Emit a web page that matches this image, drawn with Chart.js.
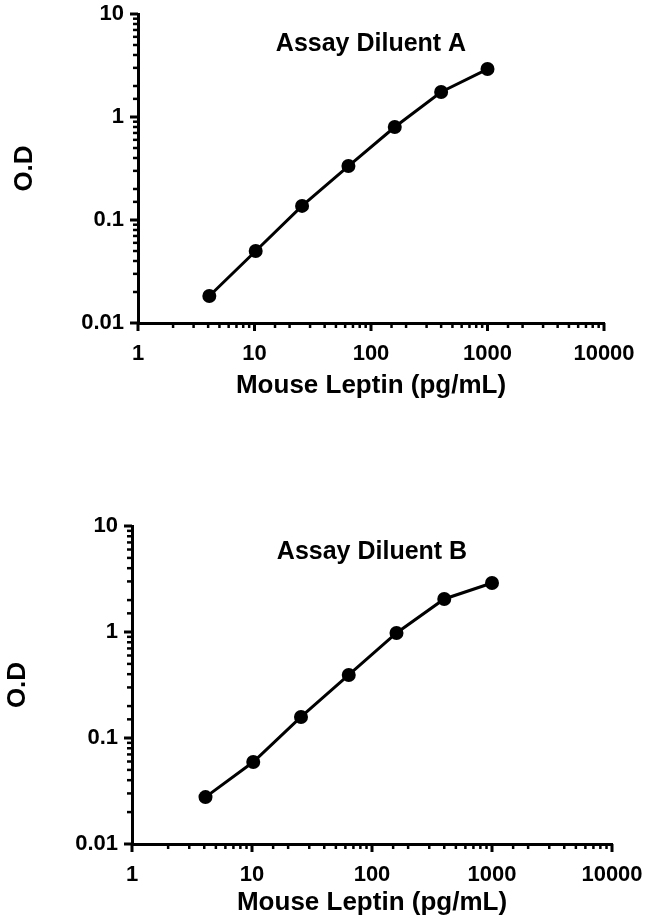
<!DOCTYPE html>
<html>
<head>
<meta charset="utf-8">
<title>Mouse Leptin standard curves</title>
<script src="https://cdn.jsdelivr.net/npm/chart.js@4.4.0/dist/chart.umd.min.js"></script>
<style>
  body { margin: 0; background: #fff; }
  canvas { display: block; }
</style>
</head>
<body>
<canvas id="chartA" width="646" height="465"></canvas>
<canvas id="chartB" width="646" height="458"></canvas>
<script>
// standard concentrations (2.5-fold dilution from 1000 pg/mL)
const concentrations = [4.096, 10.24, 25.6, 64, 160, 400, 1000];
const odDiluentA = [0.0183, 0.050, 0.137, 0.334, 0.80, 1.75, 2.92];
const odDiluentB = [0.0277, 0.0594, 0.158, 0.393, 0.979, 2.05, 2.90];
const chartTitles = ['Assay Diluent A', 'Assay Diluent B'];
const xTickLabels = ['1', '10', '100', '1000', '10000'];
const yTickLabels = ['0.01', '0.1', '1', '10'];

const FONT = '"Liberation Sans", Arial, sans-serif';

// returns the exponent if v is a power of ten, otherwise null
function decade(v) {
    const e = Math.log10(v);
    return Math.abs(e - Math.round(e)) < 1e-6 ? Math.round(e) : null;
}

// long tick marks at decades, short ones in between (drawn outward)
const tickMarks = {
    id: 'tickMarks',
    afterDraw(chart) {
        const { ctx, chartArea, scales } = chart;
        ctx.save();
        ctx.strokeStyle = '#000';
        scales.x.ticks.forEach(t => {
            const px = scales.x.getPixelForValue(t.value);
            const major = decade(t.value) !== null;
            ctx.lineWidth = major ? 3 : 2.5;
            ctx.beginPath();
            ctx.moveTo(px, chartArea.bottom);
            ctx.lineTo(px, chartArea.bottom + (major ? 8 : 5));
            ctx.stroke();
        });
        scales.y.ticks.forEach(t => {
            const py = scales.y.getPixelForValue(t.value);
            const major = decade(t.value) !== null;
            ctx.lineWidth = major ? 3 : 2.5;
            ctx.beginPath();
            ctx.moveTo(chartArea.left, py);
            ctx.lineTo(chartArea.left - (major ? 8 : 5), py);
            ctx.stroke();
        });
        ctx.restore();
    }
};

// title sits inside the plot area, near the top
const insideTitle = {
    id: 'insideTitle',
    afterDraw(chart, args, opts) {
        const { ctx, chartArea } = chart;
        ctx.save();
        ctx.fillStyle = '#000';
        ctx.font = 'bold 25px ' + FONT;
        ctx.textAlign = 'center';
        ctx.textBaseline = 'middle';
        ctx.fillText(opts.text, (chartArea.left + chartArea.right) / 2, chartArea.top + opts.offset);
        ctx.restore();
    }
};

function makeChart(id, title, values, g) {
    const ctx = document.getElementById(id).getContext('2d');
    return new Chart(ctx, {
        type: 'line',
        data: {
            datasets: [{
                data: concentrations.map((c, i) => ({ x: c, y: values[i] })),
                borderColor: '#000',
                backgroundColor: '#000',
                borderWidth: 3,
                pointRadius: 7,
                pointHoverRadius: 7,
                pointBackgroundColor: '#000',
                pointBorderWidth: 0,
                tension: 0
            }]
        },
        options: {
            responsive: false,
            animation: false,
            layout: { padding: { top: g.top, right: g.right, left: 0, bottom: 0 } },
            plugins: {
                legend: { display: false },
                tooltip: { enabled: false },
                insideTitle: { text: title, offset: g.titleOffset }
            },
            scales: {
                x: {
                    type: 'logarithmic',
                    min: 1,
                    max: 10000,
                    grid: { display: false, drawTicks: false },
                    border: { display: true, color: '#000', width: 3 },
                    ticks: {
                        autoSkip: false,
                        maxRotation: 0,
                        padding: 18,
                        color: '#000',
                        font: { family: FONT, size: 22, weight: 'bold' },
                        callback: v => {
                            const e = decade(v);
                            return e === null ? '' : xTickLabels[e];
                        }
                    },
                    title: {
                        display: true,
                        text: 'Mouse Leptin (pg/mL)',
                        color: '#000',
                        font: { family: FONT, size: 26, weight: 'bold' },
                        padding: { top: 0, bottom: g.xTitlePad }
                    },
                    afterFit: s => {
                        s.height = g.xHeight;
                        s.paddingLeft = 0;
                        s.paddingRight = 0;
                    }
                },
                y: {
                    type: 'logarithmic',
                    min: 0.01,
                    max: 10,
                    grid: { display: false, drawTicks: false },
                    border: { display: true, color: '#000', width: 3 },
                    ticks: {
                        autoSkip: false,
                        padding: 14,
                        color: '#000',
                        font: { family: FONT, size: 22, weight: 'bold' },
                        callback: v => {
                            const e = decade(v);
                            return e === null ? '' : yTickLabels[e + 2];
                        }
                    },
                    title: {
                        display: true,
                        text: 'O.D',
                        color: '#000',
                        font: { family: FONT, size: 26, weight: 'bold' },
                        padding: { top: g.yTitlePad, bottom: 0 }
                    },
                    afterFit: s => {
                        s.width = g.yWidth;
                        s.paddingTop = 0;
                        s.paddingBottom = 0;
                    }
                }
            }
        },
        plugins: [tickMarks, insideTitle]
    });
}

makeChart('chartA', chartTitles[0], odDiluentA,
    { top: 14, right: 42, xHeight: 142, yWidth: 138, xTitlePad: 64, yTitlePad: 9, titleOffset: 30 });
makeChart('chartB', chartTitles[1], odDiluentB,
    { top: 61, right: 34, xHeight: 79, yWidth: 132, xTitlePad: 5, yTitlePad: 2, titleOffset: 26 });
</script>
</body>
</html>
